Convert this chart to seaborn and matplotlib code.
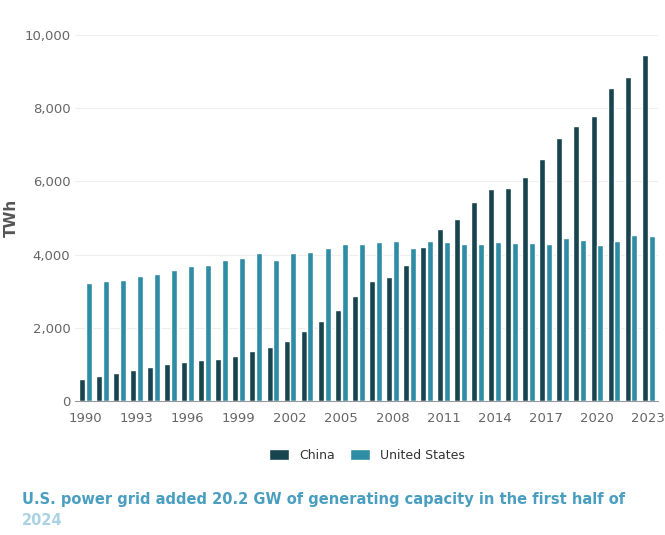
import numpy as np
import pandas as pd
import seaborn as sns
import matplotlib.pyplot as plt

years = list(range(1990, 2024))
china = [620, 680, 760, 840, 930, 1010, 1080, 1130, 1160, 1240, 1360, 1480, 1650, 1910,
         2200, 2500, 2870, 3280, 3400, 3730, 4200, 4700, 4980, 5430, 5800, 5810, 6130,
         6600, 7170, 7500, 7780, 8540, 8850, 9460]
usa = [3220, 3280, 3300, 3410, 3480, 3580, 3680, 3710, 3850, 3910, 4050, 3850, 4050, 4080,
       4180, 4290, 4290, 4340, 4370, 4170, 4380, 4350, 4280, 4300, 4340, 4320, 4320, 4290,
       4460, 4390, 4260, 4380, 4550, 4510]

df = pd.DataFrame({
    "year": years * 2,
    "value": china + usa,
    "country": ["China"] * len(years) + ["United States"] * len(years),
})

sns.set_style("white")
plt.rcParams['font.family'] = ['DejaVu Sans']

fig = plt.figure(figsize=(6.65, 5.35), dpi=100)
ax = fig.add_axes([0.113, 0.25, 0.877, 0.685])
sns.barplot(data=df, x="year", y="value", hue="country",
            palette={"China": "#17444f", "United States": "#2e8ca5"},
            saturation=1, width=0.8, gap=0.12, ax=ax, legend=True)

ax.set_ylim(0, 10000)
ax.set_yticks(range(0, 10001, 2000))
ax.set_yticklabels([f"{v:,}" for v in range(0, 10001, 2000)], color="#666666", fontsize=9.5)
idx = list(range(0, len(years), 3))
ax.set_xticks(idx)
ax.set_xticklabels([str(years[i]) for i in idx], color="#666666", fontsize=9.5)
ax.tick_params(axis="x", length=4, color="#999999")
ax.tick_params(axis="y", length=0)
ax.set_xlim(-0.6, len(years) - 0.4)
ax.grid(axis="y", color="#eeeeee", linewidth=0.8)
ax.set_axisbelow(True)
for s in ["top", "right", "left"]:
    ax.spines[s].set_visible(False)
ax.spines["bottom"].set_color("#999999")
ax.set_xlabel("")
ax.set_ylabel("TWh", color="#555555", fontsize=11, fontweight="bold")

leg = ax.legend(loc="upper center", bbox_to_anchor=(0.5, -0.1), ncol=2, frameon=False,
                fontsize=9, handlelength=1.6, handleheight=1.0, columnspacing=1.2)
for t in leg.get_texts():
    t.set_color("#333333")

fig.text(0.033, 0.058, "U.S. power grid added 20.2 GW of generating capacity in the first half of",
         color="#4a9fc0", fontsize=10.5, fontweight="bold")
fig.text(0.033, 0.018, "2024", color="#a9d2e2", fontsize=10.5, fontweight="bold")

fig.savefig("out.png", dpi=100)
